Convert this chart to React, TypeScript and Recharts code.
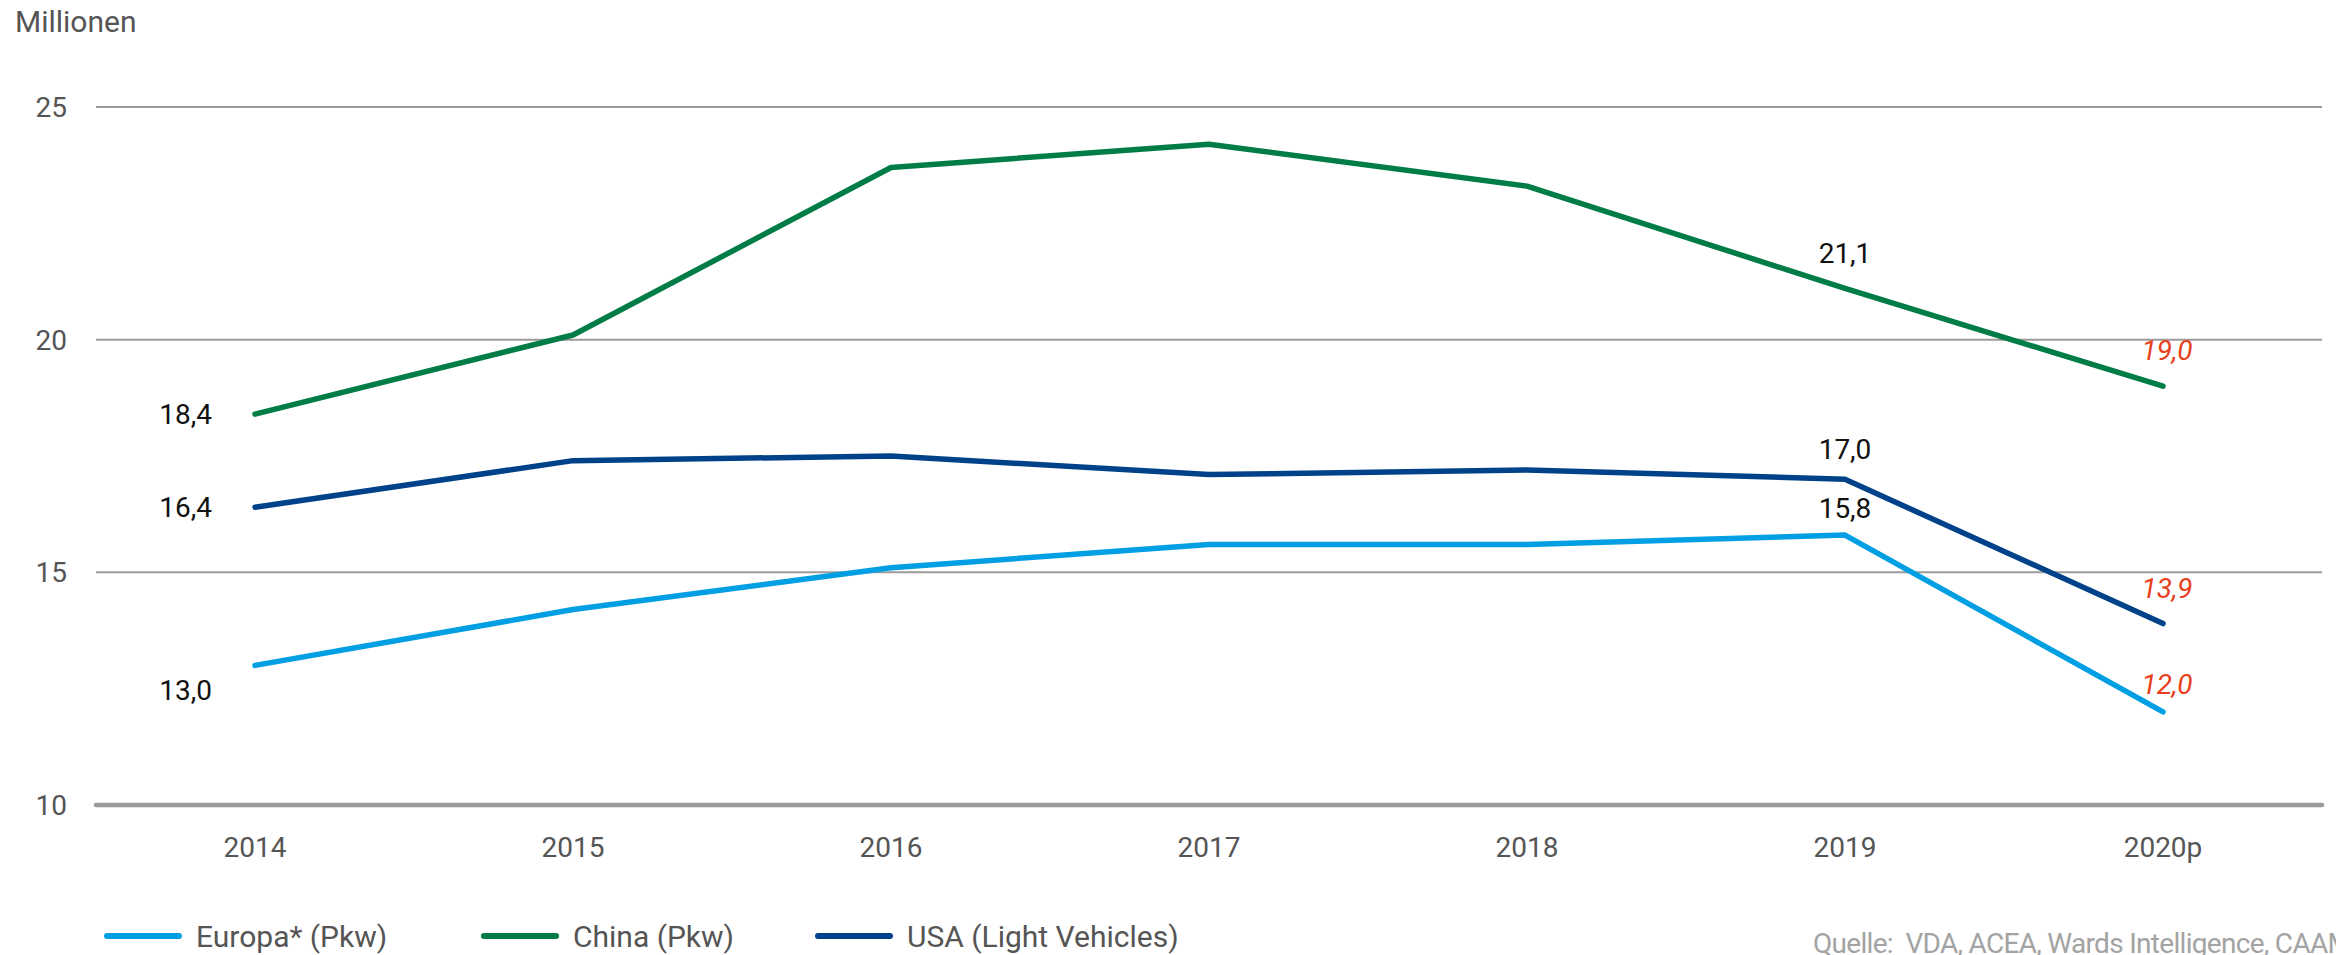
import { LineChart, Line, XAxis, YAxis, CartesianGrid, LabelList } from 'recharts';

const years = ['2014', '2015', '2016', '2017', '2018', '2019', '2020p'];
const europa = [13.0, 14.2, 15.1, 15.6, 15.6, 15.8, 12.0];
const china = [18.4, 20.1, 23.7, 24.2, 23.3, 21.1, 19.0];
const usa = [16.4, 17.4, 17.5, 17.1, 17.2, 17.0, 13.9];
const yTicks = [10, 15, 20, 25];

const seriesNames = {
  europa: 'Europa* (Pkw)',
  china: 'China (Pkw)',
  usa: 'USA (Light Vehicles)',
};
const colors = {
  europa: '#009fe3',
  china: '#007c46',
  usa: '#00428a',
};

const data = years.map((year, i) => ({
  year,
  europa: europa[i],
  china: china[i],
  usa: usa[i],
}));

const FONT = 'Roboto, "Noto Sans", sans-serif';

type Key = 'europa' | 'china' | 'usa';

const fmt = (v: number) => v.toFixed(1).replace('.', ',');

const makeLabel = (key: Key) => (props: any) => {
  const { x, y, value, index } = props;
  if (index === 0) {
    const dy = key === 'europa' ? 25 : 0;
    return (
      <text x={x - 43} y={y + dy + 10} textAnchor="end" fontSize={28} fontFamily={FONT} fill="#111">
        {fmt(value)}
      </text>
    );
  }
  if (index === 5) {
    const up = key === 'china' ? 35 : key === 'usa' ? 30 : 27;
    return (
      <text x={x} y={y - up + 10} textAnchor="middle" fontSize={28} fontFamily={FONT} fill="#111">
        {fmt(value)}
      </text>
    );
  }
  if (index === 6) {
    const up = key === 'europa' ? 28 : 36;
    return (
      <text
        x={x + 4}
        y={y - up + 10}
        textAnchor="middle"
        fontSize={28}
        fontStyle="italic"
        fontFamily={FONT}
        fill="#e8401c"
      >
        {fmt(value)}
      </text>
    );
  }
  return null;
};

const legendItems: { key: Key; x: number }[] = [
  { key: 'europa', x: 104 },
  { key: 'china', x: 481 },
  { key: 'usa', x: 815 },
];

export default function App() {
  return (
    <div
      style={{
        position: 'absolute',
        left: 0,
        top: 0,
        width: 2336,
        height: 955,
        overflow: 'hidden',
        background: '#fff',
      }}
    >
      <LineChart width={2336} height={955} data={data} margin={{ top: 107, right: 14, bottom: 90, left: 0 }}>
        <CartesianGrid vertical={false} stroke="#9b9b9b" strokeWidth={2} />
        <XAxis
          dataKey="year"
          height={60}
          padding={{ left: 159, right: 159 }}
          tickLine={false}
          tickSize={0}
          tickMargin={32}
          axisLine={{ stroke: '#9b9b9b', strokeWidth: 4.5, strokeLinecap: 'round' }}
          tick={{ fill: '#555', fontSize: 28, fontFamily: FONT }}
        />
        <YAxis
          width={96}
          domain={[10, 25]}
          ticks={yTicks}
          tickLine={false}
          axisLine={false}
          tickSize={0}
          tickMargin={29}
          tick={{ fill: '#555', fontSize: 28, fontFamily: FONT }}
        />
        {(['china', 'usa', 'europa'] as Key[]).map((key) => (
          <Line
            key={key}
            dataKey={key}
            type="linear"
            stroke={colors[key]}
            strokeWidth={5.5}
            strokeLinecap="round"
            strokeLinejoin="round"
            dot={false}
            activeDot={false}
            isAnimationActive={false}
          >
            <LabelList dataKey={key} content={makeLabel(key)} />
          </Line>
        ))}
      </LineChart>
      <svg
        width={2336}
        height={955}
        style={{ position: 'absolute', left: 0, top: 0, pointerEvents: 'none' }}
      >
        <text x={15} y={32} fontSize={30} fontFamily={FONT} fill="#555">
          Millionen
        </text>
        {legendItems.map((item) => (
          <g key={item.key}>
            <line
              x1={item.x + 3}
              x2={item.x + 75}
              y1={936}
              y2={936}
              stroke={colors[item.key]}
              strokeWidth={6}
              strokeLinecap="round"
            />
            <text x={item.x + 92} y={947} fontSize={30} fontFamily={FONT} fill="#555">
              {seriesNames[item.key]}
            </text>
          </g>
        ))}
        <text x={1813} y={953} fontSize={28} letterSpacing={-0.7} fontFamily={FONT} fill="#a3a3a3">
          Quelle:{'\u00a0\u00a0'}VDA, ACEA, Wards Intelligence, CAAM
        </text>
      </svg>
    </div>
  );
}
